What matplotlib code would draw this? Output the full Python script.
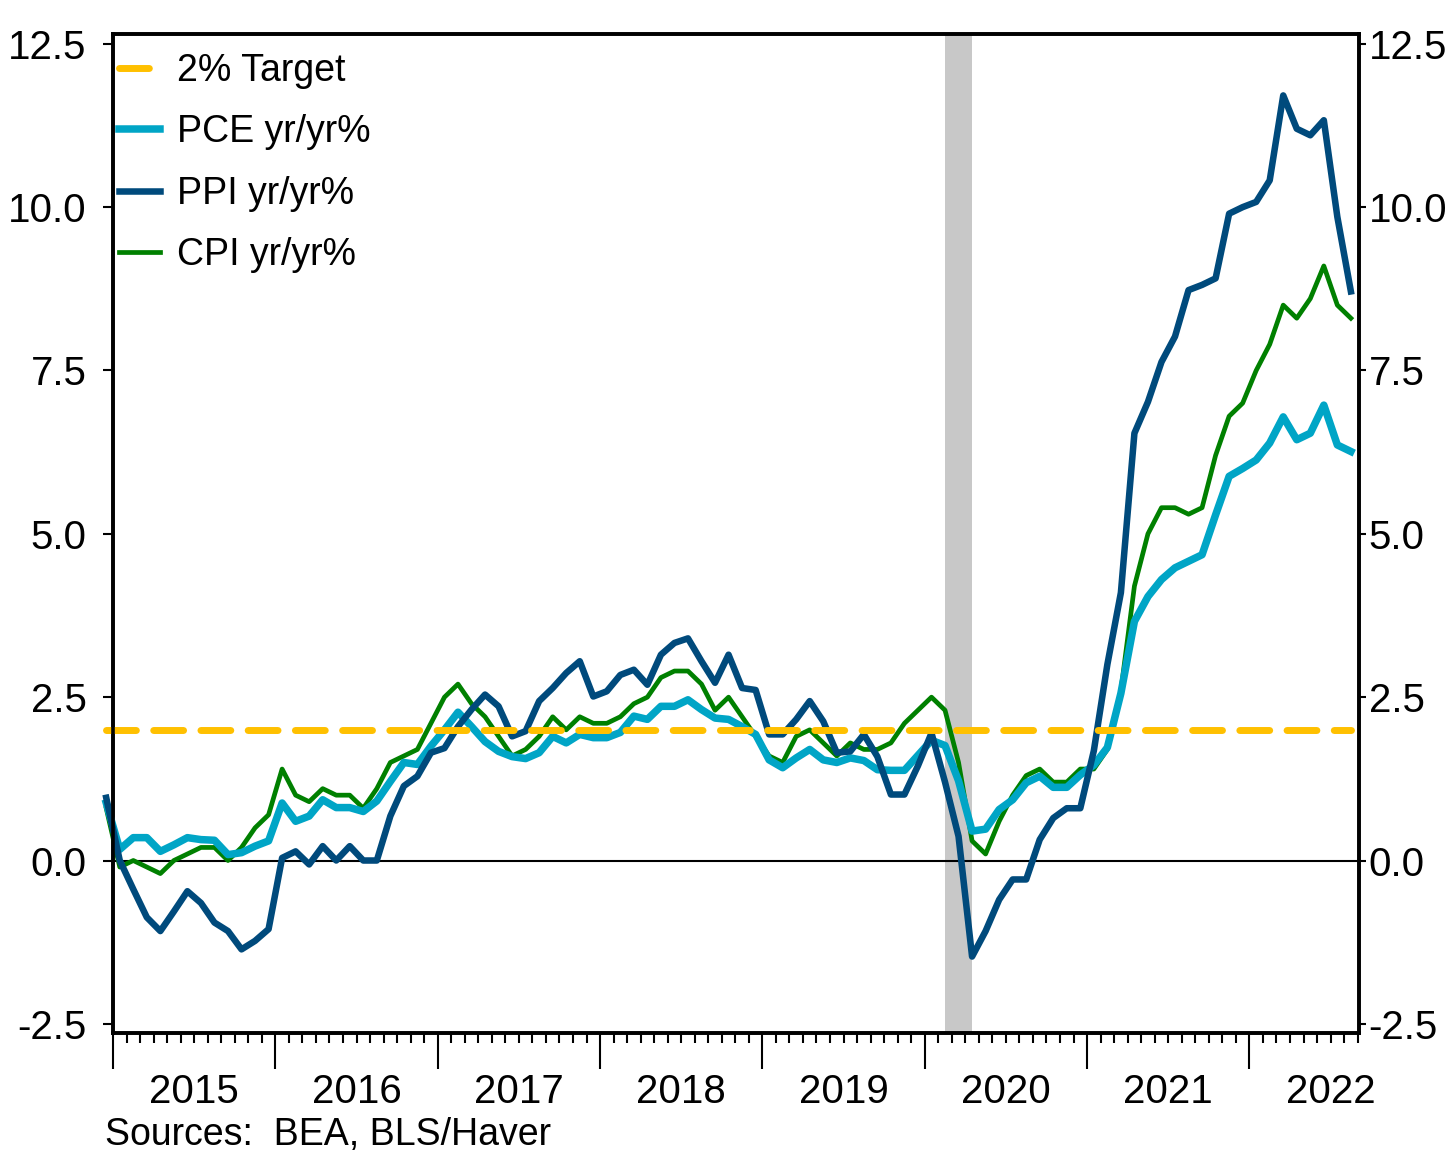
import numpy as np
import pandas as pd
import matplotlib
matplotlib.use('Agg')
import matplotlib.pyplot as plt

plt.rcParams['font.family'] = ['Liberation Sans Narrow', 'Liberation Sans', 'DejaVu Sans']

# Monthly observations, Dec 2014 .. Aug 2022 (yr/yr %)
months = pd.period_range('2014-12', '2022-08', freq='M')

pce = [0.88,
       0.17, 0.35, 0.35, 0.14, 0.24, 0.35, 0.32, 0.31, 0.09, 0.12, 0.22, 0.30,
       0.88, 0.60, 0.68, 0.93, 0.81, 0.81, 0.75, 0.91, 1.21, 1.50, 1.47, 1.75,
       2.00, 2.27, 2.05, 1.82, 1.67, 1.59, 1.56, 1.65, 1.90, 1.80, 1.93, 1.88,
       1.88, 1.96, 2.21, 2.16, 2.36, 2.36, 2.46, 2.31, 2.18, 2.16, 2.05, 1.93,
       1.54, 1.42, 1.57, 1.70, 1.54, 1.50, 1.57, 1.53, 1.39, 1.38, 1.38, 1.61,
       1.84, 1.76, 1.22, 0.45, 0.48, 0.78, 0.93, 1.19, 1.29, 1.12, 1.12, 1.31,
       1.46, 1.73, 2.56, 3.66, 4.04, 4.30, 4.48, 4.58, 4.68, 5.29, 5.88, 6.00,
       6.13, 6.39, 6.79, 6.44, 6.54, 6.97, 6.36, 6.26]

ppi = [0.96,
       0.00, -0.44, -0.87, -1.08, -0.78, -0.47, -0.65, -0.95, -1.08, -1.36, -1.23, -1.05,
       0.04, 0.14, -0.06, 0.22, 0.00, 0.22, 0.00, 0.00, 0.68, 1.14, 1.29, 1.65,
       1.72, 2.05, 2.31, 2.54, 2.36, 1.90, 1.98, 2.44, 2.64, 2.87, 3.05, 2.51,
       2.59, 2.84, 2.92, 2.69, 3.15, 3.33, 3.40, 3.05, 2.72, 3.15, 2.64, 2.61,
       1.93, 1.93, 2.16, 2.44, 2.13, 1.65, 1.67, 1.93, 1.59, 1.01, 1.01, 1.45,
       1.95, 1.20, 0.37, -1.47, -1.08, -0.60, -0.29, -0.29, 0.32, 0.65, 0.80, 0.80,
       1.68, 3.00, 4.10, 6.54, 7.02, 7.63, 8.02, 8.73, 8.81, 8.91, 9.90, 10.00,
       10.08, 10.41, 11.71, 11.20, 11.10, 11.33, 9.85, 8.71]

cpi = [0.8,
       -0.1, 0.0, -0.1, -0.2, 0.0, 0.1, 0.2, 0.2, 0.0, 0.2, 0.5, 0.7,
       1.4, 1.0, 0.9, 1.1, 1.0, 1.0, 0.8, 1.1, 1.5, 1.6, 1.7, 2.1,
       2.5, 2.7, 2.4, 2.2, 1.9, 1.6, 1.7, 1.9, 2.2, 2.0, 2.2, 2.1,
       2.1, 2.2, 2.4, 2.5, 2.8, 2.9, 2.9, 2.7, 2.3, 2.5, 2.2, 1.9,
       1.6, 1.5, 1.9, 2.0, 1.8, 1.6, 1.8, 1.7, 1.7, 1.8, 2.1, 2.3,
       2.5, 2.3, 1.5, 0.3, 0.1, 0.6, 1.0, 1.3, 1.4, 1.2, 1.2, 1.4,
       1.4, 1.7, 2.6, 4.2, 5.0, 5.4, 5.4, 5.3, 5.4, 6.2, 6.8, 7.0,
       7.5, 7.9, 8.5, 8.3, 8.6, 9.1, 8.5, 8.3]

target = 2.0
recession = ('2020-02', '2020-04')
years = list(range(2015, 2023))
yticks = [-2.5, 0.0, 2.5, 5.0, 7.5, 10.0, 12.5]


def month_x(p):
    # months since Jan 2015, plotted mid-month
    p = pd.Period(p, freq='M')
    return (p.year - 2015) * 12 + p.month - 1 + 0.5


x = np.array([month_x(p) for p in months])

c_pce = '#00A5C6'
c_ppi = '#004A7C'
c_cpi = '#008000'
c_tgt = '#FFC000'

fig = plt.figure(figsize=(14.55, 11.55), dpi=100)
ax = fig.add_axes([113 / 1455, 1 - 1033 / 1155, (1359 - 113) / 1455, (1033 - 34) / 1155])

ax.axvspan(month_x(recession[0]), month_x(recession[1]), color='#C8C8C8', lw=0, zorder=0)
ax.axhline(0, color='black', lw=1.5, zorder=1)

# the first (Dec 2014) point sits just left of the frame, so no clipping
ax.plot(x, cpi, color=c_cpi, lw=3.4, zorder=3, label='CPI yr/yr%', clip_on=False)
ax.plot(x, pce, color=c_pce, lw=5.4, zorder=4, label='PCE yr/yr%', clip_on=False)
ax.plot(x, ppi, color=c_ppi, lw=4.7, zorder=5, label='PPI yr/yr%', clip_on=False)
ax.plot(x, [target] * len(x), color=c_tgt, lw=5.0, dashes=(4.3, 2.5),
        dash_capstyle='round', zorder=6, label='2% Target', clip_on=False)

ax.set_xlim(0, 92.1)
ax.set_ylim(-2.64, 12.65)

for s in ax.spines.values():
    s.set_linewidth(2.6)

# x ticks: long at year boundaries, short monthly, year names centred
ax.set_xticks([(y - 2015) * 12 for y in years])
ax.set_xticklabels([])
ax.set_xticks(np.arange(0, 93), minor=True)
ax.tick_params(axis='x', which='major', direction='out', length=26, width=1.5)
ax.tick_params(axis='x', which='minor', direction='out', length=7, width=1.5)

sec = ax.secondary_xaxis('bottom')
sec.set_xticks([(y - 2015) * 12 + 6 for y in years])
sec.set_xticklabels([str(y) for y in years], fontsize=29)
sec.tick_params(length=0, pad=29)
sec.spines['bottom'].set_visible(False)

ax.set_yticks(yticks)
ax.set_yticklabels(['%.1f' % v for v in yticks], fontsize=29)
ax.tick_params(axis='y', direction='out', length=7, width=1.5, pad=12)

ax2 = ax.twinx()
ax2.set_ylim(ax.get_ylim())
ax2.set_yticks(yticks)
ax2.set_yticklabels(['%.1f' % v for v in yticks], fontsize=29)
ax2.tick_params(axis='y', direction='out', length=5, width=1.5, pad=2)
for s in ax2.spines.values():
    s.set_linewidth(2.6)

handles, labels = ax.get_legend_handles_labels()
order = [3, 1, 2, 0]
ax.legend([handles[i] for i in order], [labels[i] for i in order],
          loc='upper left', frameon=False, fontsize=27, handlelength=1.1,
          handletextpad=0.45, labelspacing=0.68, borderaxespad=0.0,
          borderpad=0.45, bbox_to_anchor=(-0.009, 0.998))

fig.text(105 / 1455, 1 - 1135 / 1155, 'Sources:  BEA, BLS/Haver', fontsize=27,
         ha='left', va='center')

fig.savefig('out.png', dpi=100)
